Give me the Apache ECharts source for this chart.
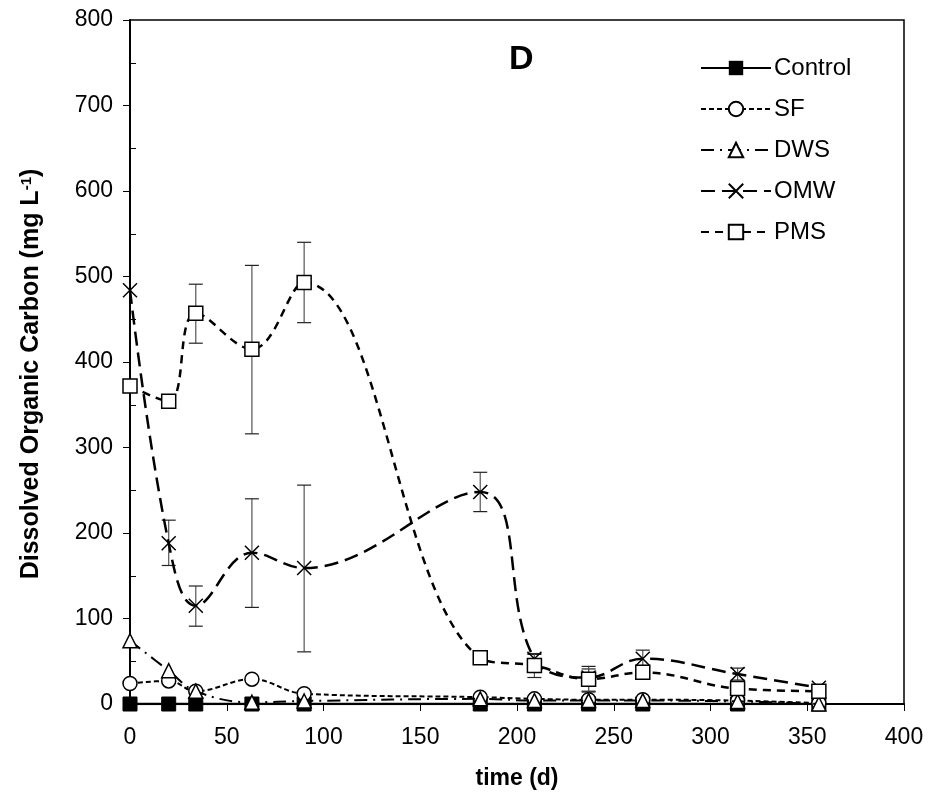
<!DOCTYPE html>
<html>
<head>
<meta charset="utf-8">
<script src="https://cdn.jsdelivr.net/npm/echarts@6/dist/echarts.min.js"></script>
<style>html,body{margin:0;padding:0;background:#fff}#c{width:930px;height:803px}</style>
</head>
<body>
<div id="c"></div>
<script>
// ---- data ----
const times = [0, 20, 34, 63, 90, 181, 209, 237, 265, 314, 356];
const controlVals = [0, 0, 0, 0, 0, 0, 0, 0, 0, 0, 0];
const sfVals  = [24, 27, 15, 29, 12, 8, 6, 5, 5, 4, 1];
const dwsVals = [74, 39, 15, 2, 3.5, 6, 4, 4, 4, 3, 0];
const omwVals = [484, 188, 115, 177, 159, 248, 53, 31, 53, 35, 19];
const pmsVals = [372, 354, 457, 415, 493, 54, 45, 29, 37, 18, 15];
const omwErrLow  = [484, 162, 91, 113, 61, 225, 46, 15, 45, 28, 15];
const omwErrHigh = [484, 215, 138, 240, 256, 271, 58, 41, 63, 42, 22];
const pmsErrLow  = [372, 354, 422, 316, 446, 54, 31, 14, 33, 15, 14];
const pmsErrHigh = [372, 354, 491, 513, 540, 54, 59, 44, 40, 21, 18];
const seriesNames = ['Control', 'SF', 'DWS', 'OMW', 'PMS'];
const xTicks = [0, 400, 50];
const yTicks = [0, 800, 100];

const FONT = 'Liberation Sans, Arial, sans-serif';
const pair = (vals) => times.map((t, i) => [t, vals[i]]);
const errData = (lo, hi) => times.map((t, i) => [t, lo[i], hi[i]]);

function errRender(params, api) {
  const x = api.value(0);
  const lo = api.coord([x, api.value(1)]);
  const hi = api.coord([x, api.value(2)]);
  const cap = 7;
  if (Math.abs(hi[1] - lo[1]) < 1) return null;
  const st = { stroke: '#555', lineWidth: 1.2 };
  return {
    type: 'group',
    children: [
      { type: 'line', shape: { x1: lo[0], y1: lo[1], x2: hi[0], y2: hi[1] }, style: st },
      { type: 'line', shape: { x1: lo[0] - cap, y1: lo[1], x2: lo[0] + cap, y2: lo[1] }, style: { stroke: '#222', lineWidth: 1.2 } },
      { type: 'line', shape: { x1: hi[0] - cap, y1: hi[1], x2: hi[0] + cap, y2: hi[1] }, style: { stroke: '#222', lineWidth: 1.2 } }
    ]
  };
}

const chart = echarts.init(document.getElementById('c'));
const hollow = { color: '#fff', borderColor: '#000', borderWidth: 1.5 };
chart.setOption({
  animation: false,
  backgroundColor: '#fff',
  title: {
    text: 'D', left: 504, top: 38,
    textStyle: { fontFamily: FONT, fontSize: 34, fontWeight: 'bold', color: '#000' }
  },
  legend: {
    data: seriesNames,
    orient: 'vertical',
    left: 695, top: 51,
    itemWidth: 70, itemHeight: 18, itemGap: 17,
    textStyle: { fontFamily: FONT, fontSize: 24, color: '#000', padding: [0, 0, 0, -2] }
  },
  grid: { left: 130, right: 26, top: 20, bottom: 99, show: true, borderColor: '#000', borderWidth: 1.5, backgroundColor: 'transparent' },
  xAxis: {
    type: 'value', min: xTicks[0], max: xTicks[1], interval: xTicks[2],
    name: 'time (d)', nameLocation: 'middle', nameGap: 63,
    nameTextStyle: { fontFamily: FONT, fontSize: 23, fontWeight: 'bold', color: '#000' },
    axisLine: { lineStyle: { color: '#000', width: 2 } },
    axisTick: { show: true, length: 7, lineStyle: { color: '#000', width: 1 } },
    axisLabel: { fontFamily: FONT, fontSize: 23, color: '#000', margin: 22 },
    splitLine: { show: false }
  },
  yAxis: [{
    type: 'value', min: yTicks[0], max: yTicks[1], interval: yTicks[2],
    name: 'Dissolved Organic Carbon (mg L{sup|-1})', nameLocation: 'middle', nameGap: 86, nameRotate: 90,
    nameTextStyle: { fontFamily: FONT, fontSize: 25, fontWeight: 'bold', color: '#000', padding: [0, 24, 0, 0],
      rich: { sup: { fontFamily: FONT, fontSize: 15, fontWeight: 'bold', color: '#000', verticalAlign: 'top', padding: [0, 0, 10, 0] } } },
    axisLine: { lineStyle: { color: '#000', width: 2 } },
    axisTick: { show: true, length: 7, lineStyle: { color: '#000', width: 1 } },
    axisLabel: { fontFamily: FONT, fontSize: 23, color: '#000', margin: 17 },
    splitLine: { show: false }
  }, {
    type: 'value', min: yTicks[0], max: yTicks[1], interval: yTicks[2], position: 'left',
    axisLine: { show: false }, axisLabel: { show: false },
    axisTick: { show: false, inside: true },
    minorTick: { show: true, splitNumber: 2, length: 6, lineStyle: { color: '#000', width: 1 } },
    splitLine: { show: false }
  }],
  series: [
    { type: 'custom', renderItem: errRender, data: errData(omwErrLow, omwErrHigh), z: 1, silent: true },
    { type: 'custom', renderItem: errRender, data: errData(pmsErrLow, pmsErrHigh), z: 1, silent: true },
    {
      name: 'Control', type: 'line', data: pair(controlVals), smooth: 0.4, z: 3,
      symbol: 'rect', symbolSize: 14,
      lineStyle: { color: '#000', width: 2.5, type: 'solid' },
      itemStyle: { color: '#000', borderColor: '#000' }
    },
    {
      name: 'SF', type: 'line', data: pair(sfVals), smooth: 0.4, z: 4,
      symbol: 'circle', symbolSize: 14,
      lineStyle: { color: '#000', width: 2, type: [5, 3] },
      itemStyle: hollow
    },
    {
      name: 'DWS', type: 'line', data: pair(dwsVals), smooth: 0.4, z: 5,
      symbol: 'triangle', symbolSize: 14,
      lineStyle: { color: '#000', width: 2, type: [13, 6, 2, 6] },
      itemStyle: hollow
    },
    {
      name: 'OMW', type: 'line', data: pair(omwVals), smooth: 0.4, z: 6,
      symbol: 'path://M0,0L10,10M10,0L0,10', symbolSize: 14,
      lineStyle: { color: '#000', width: 2.5, type: [14, 7] },
      itemStyle: { color: 'transparent', borderColor: '#000', borderWidth: 1.5 }
    },
    {
      name: 'PMS', type: 'line', data: pair(pmsVals), smooth: 0.4, z: 7,
      symbol: 'rect', symbolSize: 14,
      lineStyle: { color: '#000', width: 2.5, type: [8, 6] },
      itemStyle: hollow
    }
  ]
});
</script>
</body>
</html>
